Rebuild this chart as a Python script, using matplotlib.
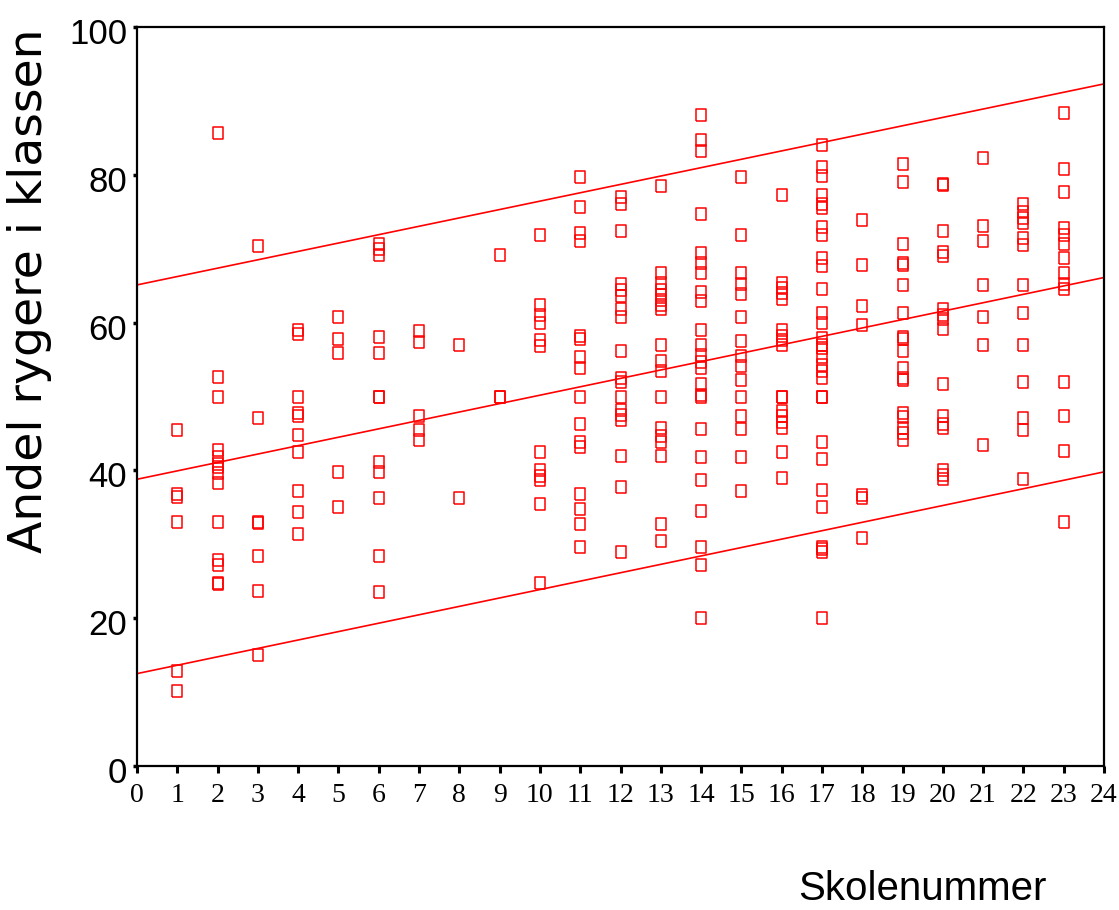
import numpy as np
import matplotlib
matplotlib.use('Agg')
import matplotlib.pyplot as plt
import matplotlib.transforms as mtransforms
from matplotlib import font_manager

# share of smokers in each class, grouped by school number
school_01 = [45.4, 36.8, 36.4, 33.0, 12.8, 10.2]
school_02 = [85.6, 52.7, 49.9, 42.8, 41.8, 40.8, 40.5, 39.6, 38.3, 33.0, 27.9, 27.2, 24.8, 24.6]
school_03 = [70.4, 47.1, 33.0, 32.9, 28.4, 23.7, 15.0]
school_04 = [59.0, 58.4, 49.9, 47.7, 47.3, 44.8, 42.5, 37.2, 34.4, 31.4]
school_05 = [60.7, 57.8, 55.9, 39.8, 35.0]
school_06 = [70.7, 70.0, 69.2, 58.0, 55.9, 50.0, 49.9, 41.2, 39.8, 36.2, 28.4, 23.5]
school_07 = [58.8, 57.4, 47.4, 45.5, 44.1]
school_08 = [57.0, 36.2]
school_09 = [69.2, 50.0, 49.9]
school_10 = [71.9, 62.4, 61.0, 60.0, 57.7, 56.9, 42.5, 40.0, 39.2, 38.7, 35.5, 24.7]
school_11 = [79.7, 75.7, 72.1, 71.0, 58.2, 57.8, 55.4, 53.8, 49.9, 46.3, 43.9, 43.2,
             36.8, 34.8, 32.7, 29.7]
school_12 = [77.0, 76.0, 72.4, 65.2, 64.4, 63.6, 61.9, 60.7, 56.2, 52.5, 52.0, 49.9,
             48.2, 47.5, 46.8, 41.9, 37.8, 28.9]
school_13 = [78.5, 66.7, 65.3, 64.4, 63.7, 63.1, 62.4, 61.8, 57.0, 54.8, 53.5, 49.9,
             45.7, 44.6, 43.8, 42.0, 32.7, 30.5]
school_14 = [88.1, 84.7, 83.2, 74.7, 69.4, 68.0, 66.7, 64.1, 62.9, 59.0, 57.0, 55.6,
             54.7, 53.8, 51.7, 50.2, 49.9, 45.6, 41.8, 38.7, 34.5, 29.7, 27.2, 20.0]
school_15 = [79.7, 71.9, 66.7, 65.2, 63.9, 60.7, 57.5, 55.5, 54.1, 52.3, 49.9, 47.3,
             45.6, 41.8, 37.2]
school_16 = [77.2, 65.3, 64.7, 64.0, 63.2, 59.0, 58.2, 57.6, 57.0, 50.0, 49.9, 48.0,
             47.3, 46.6, 45.7, 42.5, 39.0]
school_17 = [84.1, 81.1, 79.8, 77.2, 76.1, 75.5, 73.0, 71.9, 68.7, 67.7, 64.5, 61.3,
             59.9, 57.9, 57.0, 56.6, 55.4, 54.3, 53.4, 52.5, 50.0, 49.9, 43.9, 41.5,
             37.3, 35.0, 29.7, 29.3, 28.9, 20.0]
school_18 = [73.9, 67.8, 62.3, 59.7, 36.7, 36.3, 30.9]
school_19 = [81.5, 79.0, 70.6, 68.0, 67.8, 65.1, 61.3, 58.1, 57.8, 56.1, 53.8, 52.5,
             52.2, 47.7, 47.2, 45.7, 45.1, 44.1]
school_20 = [78.8, 78.6, 72.4, 69.6, 69.0, 61.8, 61.0, 60.5, 59.2, 51.7, 47.3, 46.3,
             45.7, 40.1, 39.4, 38.8]
school_21 = [82.3, 73.1, 71.1, 65.1, 60.7, 57.0, 43.5]
school_22 = [76.0, 75.0, 74.2, 73.5, 71.4, 70.5, 65.1, 61.3, 57.0, 51.9, 47.1, 45.5, 38.8]
school_23 = [88.4, 80.8, 77.7, 72.8, 71.8, 70.7, 68.8, 66.7, 65.2, 64.6, 51.9, 47.4,
             42.6, 33.0]

groups = [school_01, school_02, school_03, school_04, school_05, school_06, school_07,
          school_08, school_09, school_10, school_11, school_12, school_13, school_14,
          school_15, school_16, school_17, school_18, school_19, school_20, school_21,
          school_22, school_23]

# fitted line and prediction limits, read at the axis ends (x = 0 and x = 24)
line_x = [0, 24]
fit_line = [38.8, 66.1]
upper_line = [65.1, 92.3]
lower_line = [12.5, 39.8]

x_ticks = list(range(0, 25))
y_ticks = [0, 20, 40, 60, 80, 100]

x = np.concatenate([np.full(len(g), i + 1) for i, g in enumerate(groups)]).astype(float)
y = np.concatenate([np.array(g, dtype=float) for g in groups])

names = {f.name for f in font_manager.fontManager.ttflist}
if 'Liberation Sans Narrow' in names:
    narrow = 'Liberation Sans Narrow'
    ytick_size, xlab_size = 29, 35
else:
    narrow = 'Liberation Sans'
    ytick_size, xlab_size = 25, 29

red = '#ff0000'
box = [(-0.42, -0.5), (0.42, -0.5), (0.42, 0.5), (-0.42, 0.5), (-0.42, -0.5)]

fig = plt.figure(figsize=(11.19, 9.10), dpi=100)
ax = fig.add_axes([137 / 1119, 1 - 766 / 910, (1104 - 137) / 1119, (766 - 27) / 910])

ax.plot(x, y, linestyle='none', marker=box, markersize=8, markerfacecolor='none',
        markeredgecolor=red, markeredgewidth=1.1)
ax.plot(line_x, fit_line, color=red, lw=1.2)
ax.plot(line_x, upper_line, color=red, lw=1.2)
ax.plot(line_x, lower_line, color=red, lw=1.2)

ax.set_xlim(0, 24)
ax.set_ylim(0, 100)
ax.set_xticks(x_ticks)
ax.set_yticks(y_ticks)
ax.set_xticklabels([str(t) for t in x_ticks], fontfamily='Liberation Serif', fontsize=20)
ax.set_yticklabels([str(t) for t in y_ticks], fontfamily=narrow, fontsize=ytick_size)
ax.tick_params(axis='x', direction='out', length=5, width=2.2, pad=7, colors='black')
ax.tick_params(axis='y', direction='out', length=3, width=2.5, pad=4, colors='black')
shift = mtransforms.ScaledTranslation(0, -4 / 100, fig.dpi_scale_trans)
for lab in ax.get_yticklabels():
    lab.set_transform(lab.get_transform() + shift)
for sp in ax.spines.values():
    sp.set_linewidth(1.6)
    sp.set_color('black')

fig.text(30 / 1119, 1 - 291 / 910, 'Andel rygere i klassen', rotation=90,
         ha='center', va='center', fontfamily='DejaVu Sans', fontsize=34)
fig.text(922 / 1119, 1 - 889 / 910, 'Skolenummer', ha='center', va='center',
         fontfamily=narrow, fontsize=xlab_size)

fig.savefig('out.png', dpi=100)
